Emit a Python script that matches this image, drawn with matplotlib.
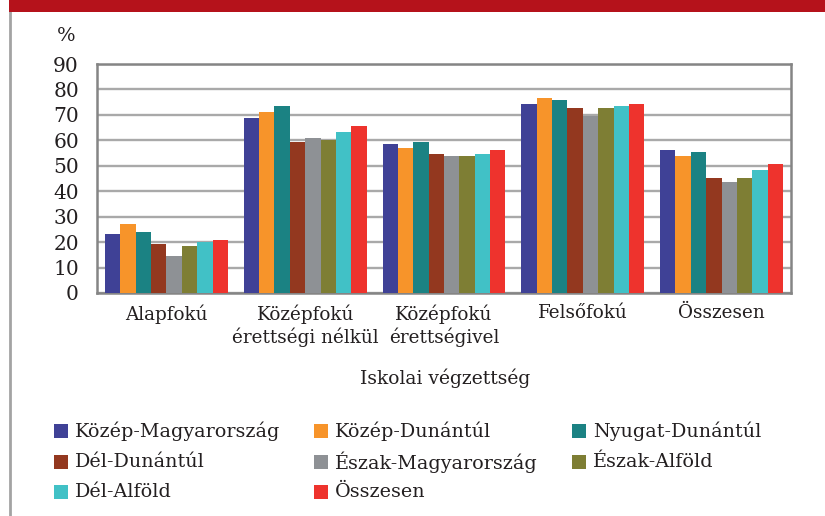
import matplotlib
matplotlib.use("Agg")
import matplotlib.pyplot as plt
from matplotlib.patches import Rectangle
from matplotlib.lines import Line2D
import numpy as np

categories = ["Alapfokú", "Középfokú\nérettségi nélkül", "Középfokú\nérettségivel", "Felsőfokú", "Összesen"]
series_names = ["Közép-Magyarország", "Közép-Dunántúl", "Nyugat-Dunántúl", "Dél-Dunántúl",
                "Észak-Magyarország", "Észak-Alföld", "Dél-Alföld", "Összesen"]
kozep_magyarorszag = [23.3, 68.9, 58.7, 74.4, 56.3]
kozep_dunantul     = [27.2, 71.3, 57.1, 76.8, 54.0]
nyugat_dunantul    = [24.1, 73.6, 59.5, 76.0, 55.5]
del_dunantul       = [19.4, 59.5, 54.8, 72.8, 45.3]
eszak_magyarorszag = [14.7, 61.0, 54.0, 69.7, 43.8]
eszak_alfold       = [18.6, 60.3, 54.0, 72.8, 45.3]
del_alfold         = [20.2, 63.4, 54.8, 73.6, 48.5]
osszesen           = [21.0, 65.8, 56.3, 74.4, 50.8]
series_values = [kozep_magyarorszag, kozep_dunantul, nyugat_dunantul, del_dunantul,
                 eszak_magyarorszag, eszak_alfold, del_alfold, osszesen]
colors = ["#3F4196", "#F7942A", "#1B8283", "#93381F", "#8E9195", "#7E7E34", "#41C1C6", "#EE332D"]
yticks = [0, 10, 20, 30, 40, 50, 60, 70, 80, 90]
y_label = "%"
x_label = "Iskolai végzettség"

W, H = 825, 516
fig = plt.figure(figsize=(W / 100, H / 100), dpi=100)
fig.patch.set_facecolor("white")
FONT = "DejaVu Serif"
TXT = "#231F20"

def fx(px):
    return px / W

def fy(py):
    return 1 - py / H

# decorative frame
fig.patches.append(Rectangle((fx(9), fy(12)), fx(825 - 9), 12 / H, transform=fig.transFigure,
                             facecolor="#B5121B", edgecolor="none", zorder=5))
fig.lines.append(Line2D([fx(10), fx(10)], [fy(12), 0], transform=fig.transFigure,
                        color="#A3A3A3", lw=2.0))

ax = fig.add_axes([fx(97), fy(293), fx(791 - 97), (293 - 64) / H])
n = len(series_names)
group_w = 0.886
bw = group_w / n
x = np.arange(len(categories))
for i, (vals, c) in enumerate(zip(series_values, colors)):
    ax.bar(x - group_w / 2 + bw * (i + 0.5), vals, width=bw, color=c, edgecolor="none", zorder=3)

ax.set_xlim(-0.5, len(categories) - 0.5)
ax.set_ylim(0, 90)
ax.set_yticks(yticks)
ax.set_xticks(x)
ax.set_xticklabels(categories, fontsize=13.2, family=FONT, color=TXT, linespacing=1.25)
ax.set_yticklabels([str(v) for v in yticks], fontsize=14.5, family=FONT, color=TXT)
ax.tick_params(axis="both", length=0)
ax.tick_params(axis="x", pad=8)
ax.tick_params(axis="y", pad=13)
ax.yaxis.grid(True, color="#A9A9A9", lw=1.7, zorder=1)
ax.set_axisbelow(True)
for s in ax.spines.values():
    s.set_color("#858585")
    s.set_linewidth(1.8)

fig.text(fx(66), fy(36), y_label, fontsize=14, family=FONT, color=TXT, ha="center", va="center")
fig.text(fx(445), fy(378), x_label, fontsize=13.5, family=FONT, color=TXT, ha="center", va="center")

# legend
col_x = [54, 314, 572]
row_y = [431, 462, 492]
sq = 14
for i, (name, c) in enumerate(zip(series_names, colors)):
    cx = col_x[i % 3]
    cy = row_y[i // 3]
    fig.patches.append(Rectangle((fx(cx), fy(cy + sq / 2)), sq / W, sq / H, transform=fig.transFigure,
                                 facecolor=c, edgecolor="none"))
    fig.text(fx(cx + 21), fy(cy), name, fontsize=13.8, family=FONT, color=TXT, ha="left", va="center")

fig.savefig("out.png", dpi=100)
